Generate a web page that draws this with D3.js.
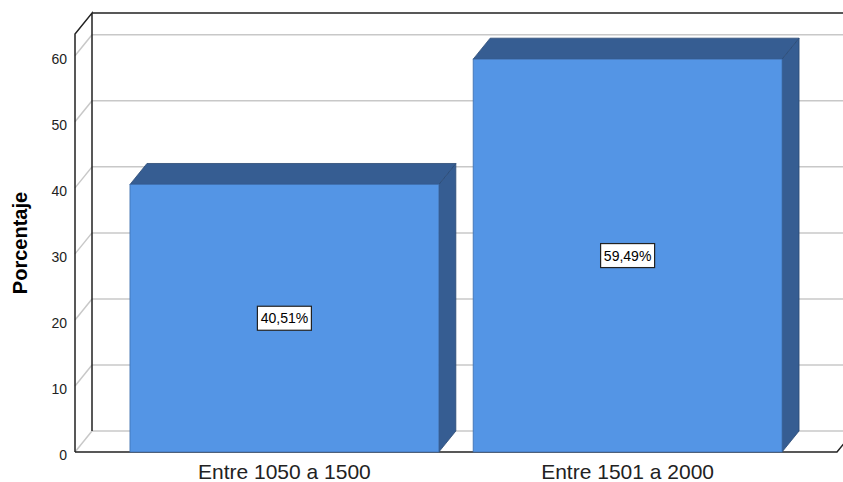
<!DOCTYPE html>
<html lang="es">
<head>
<meta charset="utf-8">
<title>Porcentaje</title>
<script src="https://cdn.jsdelivr.net/npm/d3@7"></script>
<style>
  body { margin: 0; background: #fff; }
  svg { display: block; font-family: "Liberation Sans", Arial, sans-serif; }
  .grid { stroke: #c8c8c8; stroke-width: 1.5; }
  .edge { stroke: #222; stroke-width: 1.5; fill: none; }
</style>
</head>
<body>
<script>
// categories and values
var categories = ["Entre 1050 a 1500", "Entre 1501 a 2000"];
var values = [40.51, 59.49];
var valueLabels = ["40,51%", "59,49%"];
var yTicks = [0, 10, 20, 30, 40, 50, 60];

var w = 843, h = 482;
var dx = 17, dy = -21;        // depth of the 3D box
var left = 75, bottom = 452, right = 837;

var svg = d3.select("body").append("svg")
  .attr("width", w).attr("height", h);

var y = d3.scaleLinear().domain([0, 63.3]).range([bottom, 34]);
var x = d3.scaleBand().domain(categories)
  .range([112.8, 799.2]).paddingInner(0.1).paddingOuter(0.05);

// back wall gridlines
svg.append("g").selectAll("line").data(yTicks.slice(1)).join("line")
  .attr("class", "grid")
  .attr("x1", left + dx).attr("x2", w + 20)
  .attr("y1", function(d){ return y(d) + dy; })
  .attr("y2", function(d){ return y(d) + dy; });

// left wall gridlines (diagonals)
svg.append("g").selectAll("line").data(yTicks).join("line")
  .attr("class", "grid")
  .attr("x1", left).attr("x2", left + dx)
  .attr("y1", function(d){ return y(d); })
  .attr("y2", function(d){ return y(d) + dy; });

// floor back line
svg.append("line").attr("class", "grid")
  .attr("x1", left + dx).attr("x2", w + 20)
  .attr("y1", bottom + dy).attr("y2", bottom + dy);

// box edges
var yTop = y.range()[1];
svg.append("path").attr("class", "edge")
  .attr("d", "M" + left + "," + bottom + "V" + yTop + "L" + (left + dx) + "," + (yTop + dy) +
    "V" + (bottom + dy) + "M" + (left + dx) + "," + (yTop + dy) + "H" + (w + 20));
svg.append("path").attr("class", "edge")
  .attr("d", "M" + left + "," + bottom + "H" + right + "L" + (right + dx) + "," + (bottom + dy));

// bars
var bars = svg.append("g").selectAll("g").data(values).join("g");
bars.append("path")
  .attr("fill", "#365d92").attr("stroke", "#2b4a75").attr("stroke-width", 0.8)
  .attr("d", function(d, i){
    var x1 = x(categories[i]) + x.bandwidth(), yt = y(d);
    return "M" + x1 + "," + bottom + "L" + (x1 + dx) + "," + (bottom + dy) +
      "L" + (x1 + dx) + "," + (yt + dy) + "L" + x1 + "," + yt + "Z";
  });
bars.append("path")
  .attr("fill", "#365d92").attr("stroke", "#2b4a75").attr("stroke-width", 0.8)
  .attr("d", function(d, i){
    var x0 = x(categories[i]), x1 = x0 + x.bandwidth(), yt = y(d);
    return "M" + x0 + "," + yt + "L" + (x0 + dx) + "," + (yt + dy) +
      "L" + (x1 + dx) + "," + (yt + dy) + "L" + x1 + "," + yt + "Z";
  });
bars.append("rect")
  .attr("fill", "#5495e5").attr("stroke", "#3f6fae").attr("stroke-width", 0.8)
  .attr("x", function(d, i){ return x(categories[i]); })
  .attr("width", x.bandwidth())
  .attr("y", function(d){ return y(d); })
  .attr("height", function(d){ return bottom - y(d); });

// value labels
var lab = svg.append("g").selectAll("g").data(values).join("g")
  .attr("transform", function(d, i){
    return "translate(" + (x(categories[i]) + x.bandwidth() / 2) + "," + y(d / 2) + ")";
  });
lab.append("rect")
  .attr("x", -27).attr("y", -12).attr("width", 54).attr("height", 24)
  .attr("fill", "#fff").attr("stroke", "#222").attr("stroke-width", 1.2);
lab.append("text")
  .attr("text-anchor", "middle").attr("dy", "0.36em")
  .attr("font-size", 14).attr("fill", "#000")
  .text(function(d, i){ return valueLabels[i]; });

// y tick labels
svg.append("g").selectAll("text").data(yTicks).join("text")
  .attr("x", 67).attr("y", function(d){ return y(d) + 3; })
  .attr("dy", "0.36em").attr("text-anchor", "end")
  .attr("font-size", 14).attr("fill", "#222")
  .text(function(d){ return d; });

// x labels
svg.append("g").selectAll("text").data(categories).join("text")
  .attr("x", function(d){ return x(d) + x.bandwidth() / 2; })
  .attr("y", 479)
  .attr("text-anchor", "middle").attr("font-size", 21).attr("fill", "#222")
  .text(function(d){ return d; });

// y title
svg.append("text")
  .attr("transform", "translate(27,243) rotate(-90)")
  .attr("text-anchor", "middle").attr("font-size", 20).attr("font-weight", "bold")
  .attr("fill", "#000")
  .text("Porcentaje");
</script>
</body>
</html>
